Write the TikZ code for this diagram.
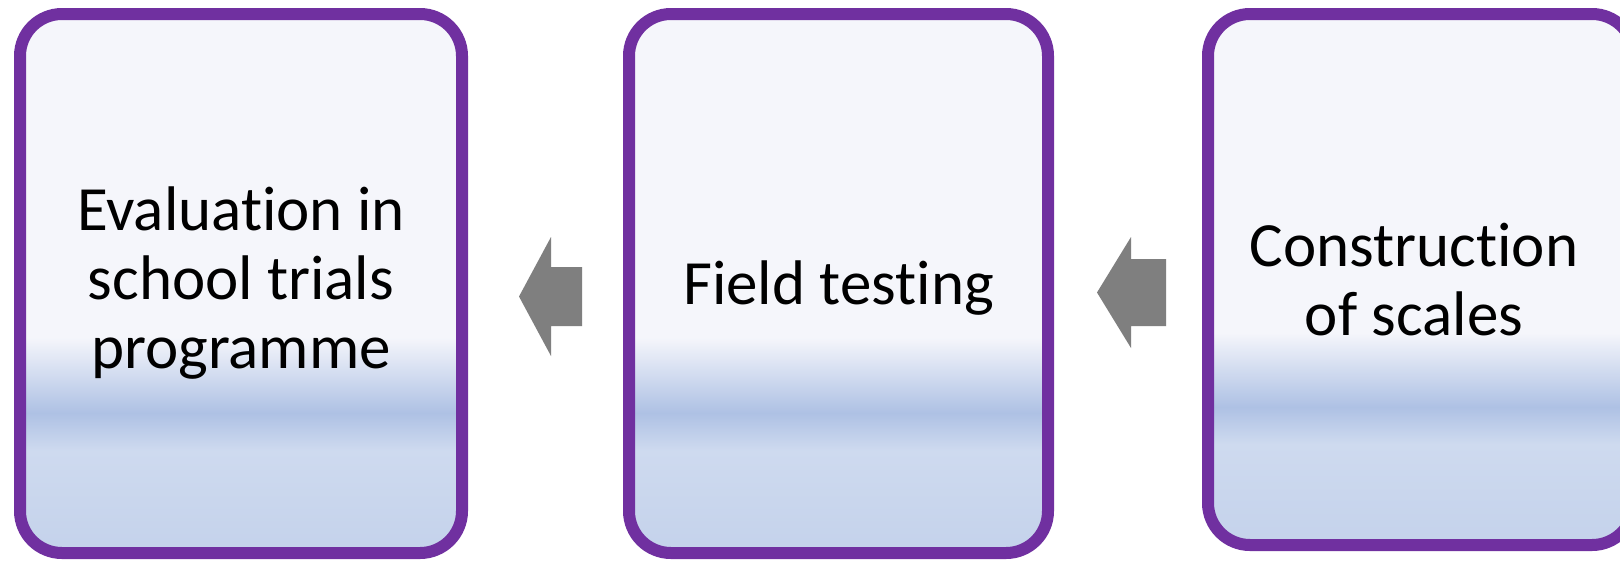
\documentclass[tikz,border=0pt]{standalone}
\usepackage{fontspec}
\setmainfont{Carlito}[Ligatures={NoCommon,NoRare,NoContextual}]
\usetikzlibrary{calc}

\definecolor{frame}{HTML}{7030A0}
\definecolor{gtop}{HTML}{F5F6FB}
\definecolor{gdark}{HTML}{AEC1E4}
\definecolor{gband}{HTML}{CEDAEF}
\definecolor{gbot}{HTML}{C4D2EB}
\definecolor{arrowgray}{HTML}{7F7F7F}

% vertical fill of the stage boxes: the path spans 25bp (bottom) .. 75bp (top)
\pgfdeclareverticalshading{stagefill}{100bp}{%
  color(0bp)=(gbot); color(25bp)=(gbot); color(34.5bp)=(gband);
  color(38bp)=(gdark); color(45bp)=(gtop); color(75bp)=(gtop);
  color(100bp)=(gtop)}

\tikzset{
  stagebox/.style={draw=frame, line width=12pt, rounded corners=42pt,
    shading=stagefill, shade, rectangle, inner sep=0pt},
  stagetext/.style={align=center, inner sep=0pt, text=black,
    font=\fontsize{63pt}{69pt}\selectfont},
  blockarrow/.style={fill=arrowgray, draw=none}
}

\begin{document}
\begin{tikzpicture}[x=1pt, y=-1pt]
  \clip (0,0) rectangle (1620,560);
  \fill[white] (0,0) rectangle (1620,560);

  % stage boxes
  \node[stagebox, minimum width=442pt, minimum height=539pt] (b1) at (241,283.5) {};
  \node[stagebox, minimum width=419pt, minimum height=539pt] (b2) at (838.5,283.5) {};
  \node[stagebox, minimum width=426pt, minimum height=531pt] (b3) at (1421,279.5) {};

  % stage labels
  \node[stagetext] (t1) at (b1.center) {Evaluation in\\school trials\\programme};
  \node[stagetext] (t2) at ([yshift=-5pt]b2.center) {Field testing};
  \node[stagetext] (t3) at ([xshift=-7pt]b3.center) {Construction\\of scales};

  % block arrows between the stages
  \fill[blockarrow] (519,296.5) -- (551,237) -- (551,267) -- (582,267)
    -- (582,326) -- (551,326) -- (551,356) -- cycle;
  \fill[blockarrow] (1097,292.5) -- (1131,237) -- (1131,259) -- (1166,259)
    -- (1166,326) -- (1131,326) -- (1131,348) -- cycle;
\end{tikzpicture}
\end{document}
